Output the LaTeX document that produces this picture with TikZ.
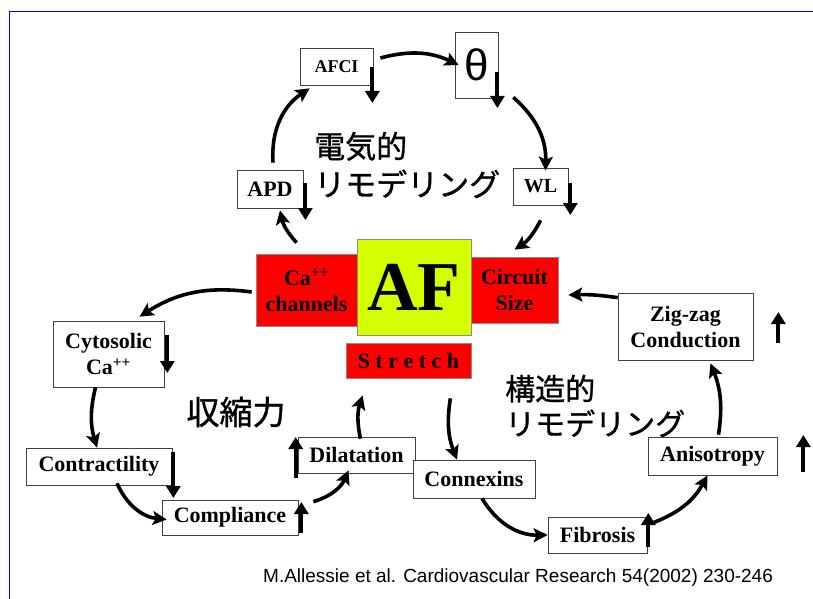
\documentclass[tikz,border=0pt]{standalone}
\usepackage{fontspec}
\setmainfont{Liberation Serif}
\newfontfamily\jpfont{Noto Sans CJK JP}[FakeBold=1]
\newfontfamily\citefont{Liberation Sans}
\usetikzlibrary{arrows.meta}

\definecolor{afyellow}{RGB}{212,255,0}
\definecolor{frameblue}{RGB}{0,0,225}

\tikzset{
  box/.style={draw=black!75, line width=0.7pt, fill=white, inner sep=0pt, align=center,
    font=\bfseries\fontsize{22}{26}\selectfont},
  redbox/.style={box, fill=red, draw=black!45},
  flow/.style={line width=3.6pt, -{Stealth[length=14pt,width=14pt,inset=3pt]}},
  ind/.style={line width=4pt, -{Triangle[length=12pt,width=14pt]}},
  jp/.style={font=\jpfont\fontsize{31}{38}\selectfont, align=left, inner sep=0pt}
}

\begin{document}
\begin{tikzpicture}[x=1pt,y=1pt]
  \useasboundingbox (0,0) rectangle (813,-599);
  \draw[frameblue, line width=0.9pt] (9,-599) -- (9,-11.5) -- (813,-11.5);

  % electrical remodelling
  \node[box, font=\bfseries\fontsize{18}{20}\selectfont, minimum width=73pt, minimum height=37pt] (afci) at (336.5,-66.5) {AFCI};
  \node[box, font=\citefont\fontsize{44}{44}\selectfont, minimum width=43pt, minimum height=66pt] (theta) at (476.5,-65) {θ};
  \node[box, minimum width=66pt, minimum height=38pt] (apd) at (270,-189) {APD};
  \node[box, font=\bfseries\fontsize{20}{20}\selectfont, minimum width=55pt, minimum height=37pt] (wl) at (540.5,-186.5) {WL};

  % centre
  \node[redbox, minimum width=101pt, minimum height=72pt] (ca) at (306.5,-290) {Ca\textsuperscript{++}\\channels};
  \node[redbox, minimum width=87pt, minimum height=66pt] (circ) at (514.5,-290) {Circuit\\Size};
  \node[box, fill=afyellow, draw=black!45, font=\bfseries\fontsize{70}{70}\selectfont, minimum width=114pt, minimum height=96pt] (af) at (414,-287) {AF};
  \node[redbox, minimum width=125pt, minimum height=35pt] (stretch) at (408.5,-360.5) {S t r e t c h};

  % contractility
  \node[box, minimum width=111pt, minimum height=66pt] (cyto) at (108.5,-354) {Cytosolic\\Ca\textsuperscript{++}};
  \node[box, minimum width=146pt, minimum height=37pt] (contr) at (99,-466.5) {Contractility};
  \node[box, minimum width=136pt, minimum height=35pt] (compl) at (230,-517.5) {Compliance};
  \node[box, minimum width=117pt, minimum height=36pt] (dila) at (356.5,-455) {Dilatation};

  % structural remodelling
  \node[box, minimum width=122pt, minimum height=38pt] (conn) at (474,-479) {Connexins};
  \node[box, minimum width=99pt, minimum height=36pt] (fibr) at (597.5,-535) {Fibrosis};
  \node[box, minimum width=129pt, minimum height=38pt] (aniso) at (712.5,-456) {Anisotropy};
  \node[box, minimum width=135pt, minimum height=67pt] (zig) at (685.5,-326.5) {Zig-zag\\Conduction};

  \node[jp, anchor=west] (elec) at (314,-165) {電気的\\リモデリング};
  \node[jp, font=\jpfont\fontsize{30}{35}\selectfont, anchor=west] (struct) at (505,-406) {構造的\\リモデリング};
  \node[jp, font=\jpfont\fontsize{33}{38}\selectfont] (force) at (236,-412) {収縮力};

  \draw[flow] ([xshift=3pt,yshift=7pt]apd.north) to[bend left=30] ([xshift=10pt,yshift=-3pt]afci.south west);
  \draw[flow] ([xshift=7pt,yshift=8.5pt]afci.east) to[bend left=20] ([xshift=4pt]theta.west);
  \draw[flow] ([xshift=15pt,yshift=1pt]theta.south east) to[bend left=25] ([xshift=5pt,yshift=-3pt]wl.north);
  \draw[flow] ([yshift=-15pt]wl.south) to[bend left=15] ([yshift=7pt]circ.north);
  \draw[flow] ([xshift=-10pt,yshift=11pt]ca.north) to[bend left=15] ([xshift=10pt,yshift=-2pt]apd.south);
  \draw[flow] ([xshift=-4pt,yshift=-2pt]ca.west) to[bend right=20] ([xshift=31pt,yshift=4pt]cyto.north);
  \draw[flow] ([xshift=-13pt]cyto.south) to[bend right=15] ([xshift=-2pt]contr.north);
  \draw[flow] ([xshift=18pt,yshift=2pt]contr.south) to[bend right=30] ([xshift=5pt,yshift=-2pt]compl.west);
  \draw[flow] ([xshift=15pt,yshift=-2pt]compl.north east) to[bend right=25] ([xshift=-8pt,yshift=3pt]dila.south);
  \draw[flow] ([xshift=4pt,yshift=-2pt]dila.north) to[bend left=15] ([xshift=17pt,yshift=-17pt]stretch.south west);
  \draw[flow] ([xshift=-21pt,yshift=-20pt]stretch.south east) to[bend right=15] ([xshift=-17pt]conn.north);
  \draw[flow] ([xshift=8pt]conn.south) to[bend right=30] (fibr.west);
  \draw[flow] ([xshift=6pt,yshift=-6pt]fibr.north east) to[bend right=20] ([xshift=-5pt]aniso.south);
  \draw[flow] ([xshift=6pt,yshift=2pt]aniso.north) to[bend right=15] ([xshift=25pt,yshift=-3pt]zig.south);
  \draw[flow] ([yshift=-5pt]zig.north west) to[bend right=5] ([xshift=10pt,yshift=-5pt]circ.east);

  % up / down marks
  \foreach \n/\a/\dx/\dy/\l in {afci/east/-1/-0.5/-36, theta/east/-1/-7/-36, apd/east/2/6/-37,
      wl/east/2/3.5/-32, cyto/east/3/19/-38, contr/east/1/14.5/-46, compl/east/3/-15.5/31,
      dila/west/-2/-23/41, fibr/east/1/-12/34, zig/east/25/-16.5/31, aniso/east/26/-16/37}{
    \draw[ind] ([shift={(\dx,\dy)}]\n.\a) -- ++(0,\l);
  }

  \node[font=\citefont\fontsize{19}{22}\selectfont, anchor=west, inner sep=0pt] (cite) at (263,-578) {M.Allessie et al. Cardiovascular Research 54(2002) 230-246};
\end{tikzpicture}
\end{document}
